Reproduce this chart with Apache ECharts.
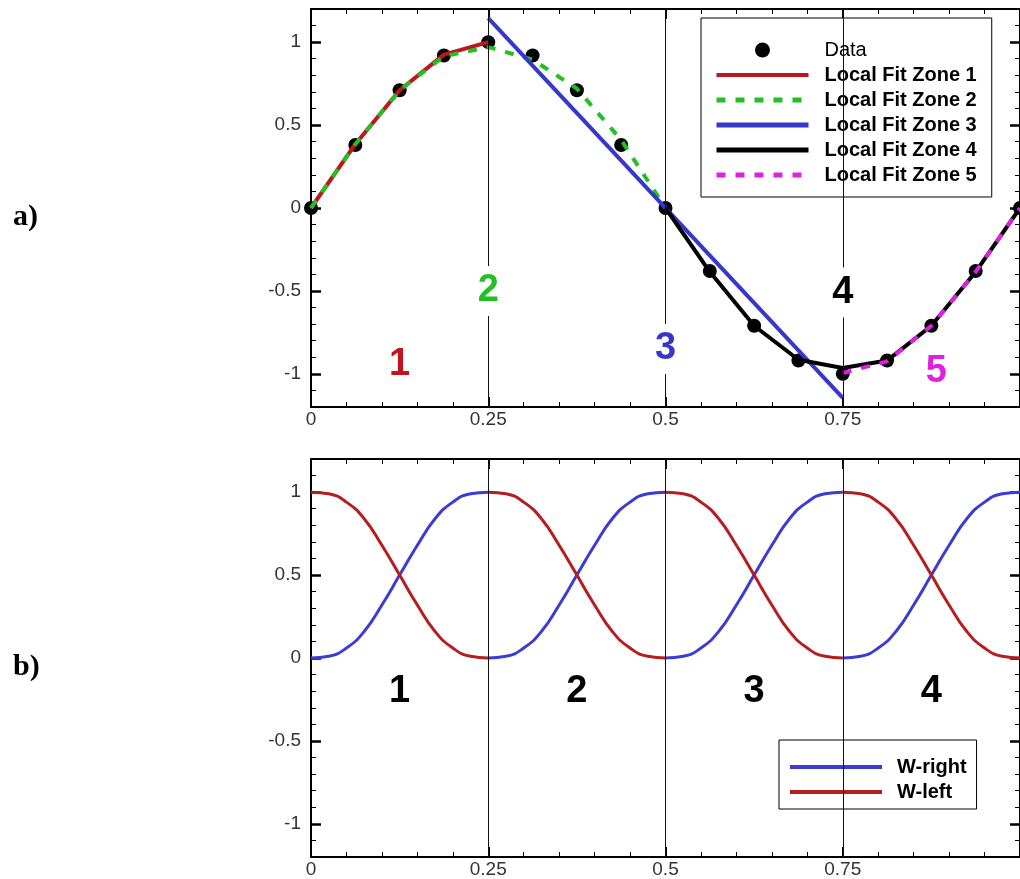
<!DOCTYPE html>
<html>
<head>
<meta charset="utf-8">
<script src="https://cdn.jsdelivr.net/npm/echarts@6/dist/echarts.min.js"></script>
<style>
  html, body { margin: 0; padding: 0; background: #fff; }
  #chart { width: 1020px; height: 879px; }
</style>
</head>
<body>
<div id="chart"></div>
<script>
// ---- panel a): sampled data and the five local fits ----
const dataX = [0, 0.0625, 0.125, 0.1875, 0.25, 0.3125, 0.375, 0.4375, 0.5,
               0.5625, 0.625, 0.6875, 0.75, 0.8125, 0.875, 0.9375, 1];
const dataY = [0, 0.38, 0.71, 0.92, 1.0, 0.92, 0.71, 0.38, 0,
               -0.38, -0.71, -0.92, -1.0, -0.92, -0.71, -0.38, 0];

const zone1X = [0, 0.0625, 0.125, 0.1875, 0.25];
const zone1Y = [0, 0.385, 0.71, 0.925, 1.0];

const zone2X = [0, 0.0625, 0.125, 0.1875, 0.25, 0.3125, 0.375, 0.4375, 0.5];
const zone2Y = [0, 0.385, 0.71, 0.915, 0.97, 0.895, 0.72, 0.41, 0];

const zone3X = [0.25, 0.75];
const zone3Y = [1.145, -1.145];

const zone4X = [0.5, 0.5625, 0.625, 0.6875, 0.75, 0.8125, 0.875, 0.9375, 1];
const zone4Y = [0, -0.385, -0.71, -0.915, -0.965, -0.92, -0.71, -0.385, 0];

const zone5X = [0.75, 0.8125, 0.875, 0.9375, 1];
const zone5Y = [-0.995, -0.925, -0.71, -0.385, 0];

// zone numbers written inside panel a)
const zoneLabelsA = ['1', '2', '3', '4', '5'];
const zoneLabelAX = [0.125, 0.25, 0.5, 0.75, 0.882];
const zoneLabelAY = [-0.945, -0.5, -0.85, -0.51, -0.985];
const zoneColorsA = ['#c0141e', '#22c022', '#3737cc', '#000000', '#e020e0'];

// ---- panel b): blending weights per zone ----
const zoneXs = [
  [0, 0.025, 0.05, 0.075, 0.1, 0.125, 0.15, 0.175, 0.2, 0.225, 0.25],
  [0.25, 0.275, 0.3, 0.325, 0.35, 0.375, 0.4, 0.425, 0.45, 0.475, 0.5],
  [0.5, 0.525, 0.55, 0.575, 0.6, 0.625, 0.65, 0.675, 0.7, 0.725, 0.75],
  [0.75, 0.775, 0.8, 0.825, 0.85, 0.875, 0.9, 0.925, 0.95, 0.975, 1]
];
const wRight = [0, 0.01, 0.06, 0.16, 0.32, 0.5, 0.68, 0.84, 0.94, 0.99, 1];
const wLeft  = [1, 0.99, 0.94, 0.84, 0.68, 0.5, 0.32, 0.16, 0.06, 0.01, 0];

const zoneLabelsB = ['1', '2', '3', '4'];
const zoneLabelBX = [0.125, 0.375, 0.625, 0.875];
const zoneLabelBY = [-0.2, -0.2, -0.2, -0.2];

const zoneBounds = [0.25, 0.5, 0.75];

// ---- helpers ----
const pairs = (xs, ys) => xs.map((x, i) => [x, ys[i]]);
const FONT = '"Liberation Sans", Arial, sans-serif';

// geometry of the two frames
const L = 311, W = 712, H = 398;
const topA = 9, topB = 459;
const majorOff = H / 12, majorH = H * 10 / 12;

function frameAxes(gridMain, gridMajor) {
  const xAxis = (pos, labels) => ({
    gridIndex: gridMain, type: 'value', position: pos, min: 0, max: 1, interval: 0.25,
    axisLine: { onZero: false, lineStyle: { color: '#000', width: 2 } },
    axisTick: { inside: true, length: 10, lineStyle: { color: '#000', width: 2 } },
    minorTick: { show: true, splitNumber: 5, length: 5, lineStyle: { color: '#000', width: 1 } },
    splitLine: { show: false }, minorSplitLine: { show: false },
    axisLabel: { show: labels, fontFamily: FONT, fontSize: 19, color: '#333', margin: 3, showMaxLabel: false }
  });
  const xAxes = [
    xAxis('bottom', true),
    xAxis('top', false),
    { gridIndex: gridMajor, type: 'value', min: 0, max: 1, show: false, axisLine: { onZero: false } }
  ];
  const minorY = (pos) => ({
    gridIndex: gridMain, type: 'value', position: pos, min: -1.2, max: 1.2, interval: 0.1,
    axisLine: { show: true, onZero: false, lineStyle: { color: '#000', width: 2 } },
    axisTick: { show: true, inside: true, length: 5, lineStyle: { color: '#000', width: 1 } },
    splitLine: { show: false }, axisLabel: { show: false }
  });
  const majorY = (pos, labels) => ({
    gridIndex: gridMajor, type: 'value', position: pos, min: -1, max: 1, interval: 0.5,
    axisLine: { show: false, onZero: false },
    axisTick: { show: true, inside: true, length: 10, lineStyle: { color: '#000', width: 2.5 } },
    splitLine: { show: false },
    axisLabel: { show: labels, fontFamily: FONT, fontSize: 19, color: '#333', margin: 10 }
  });
  return { xAxes, yAxes: [minorY('left'), minorY('right'), majorY('left', true), majorY('right', false)] };
}

const fa = frameAxes(0, 1);
const fb = frameAxes(2, 3);

const boundLines = {
  silent: true, symbol: 'none', animation: false,
  label: { show: false },
  lineStyle: { color: '#111', width: 1, type: 'solid', opacity: 1 },
  data: zoneBounds.map(v => ({ xAxis: v }))
};

const lineA = (name, xs, ys, color, dashed) => ({
  name, type: 'line', xAxisIndex: 0, yAxisIndex: 0, data: pairs(xs, ys),
  symbol: 'none', smooth: false, z: 3,
  lineStyle: { color, width: 4, type: dashed ? [9, 10] : 'solid' },
  itemStyle: { color }
});

const weightSeries = [];
zoneXs.forEach((xs) => {
  weightSeries.push({
    name: 'W-right', type: 'line', xAxisIndex: 3, yAxisIndex: 4, data: pairs(xs, wRight),
    symbol: 'none', smooth: true, z: 3,
    lineStyle: { color: '#3c3cd2', width: 3 }, itemStyle: { color: '#3c3cd2' }
  });
  weightSeries.push({
    name: 'W-left', type: 'line', xAxisIndex: 3, yAxisIndex: 4, data: pairs(xs, wLeft),
    symbol: 'none', smooth: true, z: 3,
    lineStyle: { color: '#b41e1e', width: 3 }, itemStyle: { color: '#b41e1e' }
  });
});

const labelStyle = {
  show: true, position: 'inside', fontFamily: FONT, fontSize: 38, fontWeight: 'bold',
  backgroundColor: '#fff', padding: [6, 3], opacity: 1
};

// legend entries for fitted lines: line sample only, no marker
const lineEntry = (name, width) => ({ name, itemStyle: { opacity: 0 }, lineStyle: { width } });

const option = {
  animation: false,
  backgroundColor: '#fff',
  grid: [
    { left: L, top: topA, width: W, height: H },
    { left: L, top: topA + majorOff, width: W, height: majorH },
    { left: L, top: topB, width: W, height: H },
    { left: L, top: topB + majorOff, width: W, height: majorH }
  ],
  xAxis: [...fa.xAxes, ...fb.xAxes],
  yAxis: [...fa.yAxes, ...fb.yAxes],
  legend: [
    {
      orient: 'vertical', left: 701, top: 18,
      padding: [22, 15, 12, 13],
      itemWidth: 92, itemHeight: 15, itemGap: 5,
      backgroundColor: '#fff', borderColor: '#000', borderWidth: 1,
      textStyle: { fontFamily: FONT, fontSize: 20, fontWeight: 'bold', color: '#000', padding: [0, 0, 0, 11] },
      data: [
        { name: 'Data', textStyle: { fontWeight: 'normal' } },
        lineEntry('Local Fit Zone 1', 4), lineEntry('Local Fit Zone 2', 5), lineEntry('Local Fit Zone 3', 5),
        lineEntry('Local Fit Zone 4', 5), lineEntry('Local Fit Zone 5', 5)
      ],
      selectedMode: false
    },
    {
      orient: 'vertical', left: 779, top: 740,
      padding: [17, 10, 7, 9],
      itemWidth: 92, itemHeight: 15, itemGap: 5,
      backgroundColor: '#fff', borderColor: '#000', borderWidth: 1,
      textStyle: { fontFamily: FONT, fontSize: 20, fontWeight: 'bold', color: '#000', padding: [0, 0, 0, 10] },
      data: [lineEntry('W-right', 4), lineEntry('W-left', 4)],
      selectedMode: false
    }
  ],
  graphic: [
    { type: 'text', left: 13, top: 202, style: { text: 'a)', font: 'bold 30px "Liberation Serif", "Times New Roman", serif', fill: '#000' } },
    { type: 'text', left: 13, top: 652, style: { text: 'b)', font: 'bold 30px "Liberation Serif", "Times New Roman", serif', fill: '#000' } }
  ],
  series: [
    {
      name: 'Data', type: 'scatter', xAxisIndex: 0, yAxisIndex: 0, data: pairs(dataX, dataY),
      symbol: 'circle', symbolSize: 14, clip: false, z: 2,
      itemStyle: { color: '#000', opacity: 1 },
      markLine: boundLines
    },
    lineA('Local Fit Zone 1', zone1X, zone1Y, '#c0141e', false),
    lineA('Local Fit Zone 2', zone2X, zone2Y, '#22c022', true),
    lineA('Local Fit Zone 3', zone3X, zone3Y, '#3737cc', false),
    lineA('Local Fit Zone 4', zone4X, zone4Y, '#000000', false),
    lineA('Local Fit Zone 5', zone5X, zone5Y, '#e020e0', true),
    {
      name: 'zone numbers a', type: 'scatter', xAxisIndex: 0, yAxisIndex: 0, symbolSize: 0, silent: true, z: 5,
      itemStyle: { opacity: 1 },
      data: zoneLabelsA.map((t, i) => ({
        value: [zoneLabelAX[i], zoneLabelAY[i]],
        label: Object.assign({}, labelStyle, { formatter: t, color: zoneColorsA[i] })
      }))
    },
    {
      name: 'bounds b', type: 'line', xAxisIndex: 3, yAxisIndex: 4, data: [], symbol: 'none',
      markLine: boundLines
    },
    ...weightSeries,
    {
      name: 'zone numbers b', type: 'scatter', xAxisIndex: 3, yAxisIndex: 4, symbolSize: 0, silent: true, z: 5,
      itemStyle: { opacity: 1 },
      data: zoneLabelsB.map((t, i) => ({
        value: [zoneLabelBX[i], zoneLabelBY[i]],
        label: Object.assign({}, labelStyle, { formatter: t, color: '#000' })
      }))
    }
  ]
};

const chart = echarts.init(document.getElementById('chart'), null, { renderer: 'canvas' });
chart.setOption(option);
</script>
</body>
</html>
